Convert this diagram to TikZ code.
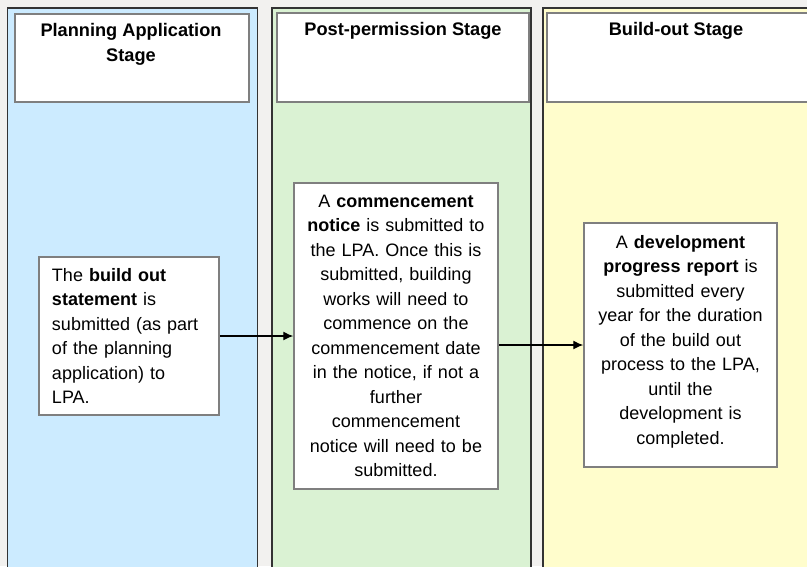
\documentclass[tikz,border=0pt]{standalone}
\usepackage{fontspec}
\setmainfont{Liberation Sans}
\usetikzlibrary{arrows.meta}
\definecolor{bgc}{HTML}{F2F1EF}
\definecolor{colblue}{HTML}{CCEBFF}
\definecolor{colgreen}{HTML}{DAF2D3}
\definecolor{colyellow}{HTML}{FFFDCC}
\definecolor{colborder}{HTML}{333333}
\definecolor{boxborder}{HTML}{7F7F7F}
\begin{document}
\begin{tikzpicture}[x=1pt,y=-1pt,
  lane/.style={draw=colborder, line width=1.8pt, anchor=north west, inner sep=0pt, minimum height=620pt},
  header/.style={draw=boxborder, fill=white, line width=1.5pt, anchor=north west, inner sep=0pt},
  title/.style={font=\fontsize{18.2}{25}\selectfont\bfseries, align=center, anchor=north, inner sep=0pt},
  textbox/.style={draw=boxborder, fill=white, line width=1.5pt, inner sep=0pt, font=\fontsize{18}{24.5}\selectfont},
  flow/.style={line width=1.3pt, -{Latex[length=10pt,width=9pt]}}
]
\useasboundingbox (0,0) rectangle (807,566);
\fill[bgc] (0,0) rectangle (807,566);
\clip (0,0) rectangle (807,566);

% lanes
\node[lane, fill=colblue, minimum width=250pt] (laneA) at (6.5,7) {};
\node[lane, fill=colgreen, minimum width=259pt] (laneB) at (271,7) {};
\node[lane, fill=colyellow, minimum width=300pt] (laneC) at (542,7) {};

% headers
\node[header, minimum width=234pt, minimum height=88pt] (hA) at (14,13) {};
\node[header, minimum width=252pt, minimum height=89pt] (hB) at (276,12) {};
\node[header, minimum width=270pt, minimum height=89pt] (hC) at (546,12) {};

\node[title] (tA) at (131,23) {Planning Application\\Stage};
\node[title] (tB) at (403,22) {Post-permission Stage};
\node[title] (tC) at (676,22) {Build-out Stage};

% text boxes
\node[textbox, minimum width=180pt, minimum height=158pt, text width=154pt, align=left] (b1) at (129,336)
  {The \textbf{build out}\\\textbf{statement} is\\submitted (as part\\of the planning\\application) to\\LPA.};
\node[textbox, minimum width=204pt, minimum height=306pt, text width=204pt, align=center] (b2) at (396,336)
  {A \textbf{commencement}\\\textbf{notice} is submitted to\\the LPA. Once this is\\submitted, building\\works will need to\\commence on the\\commencement date\\in the notice, if not a\\further\\commencement\\notice will need to be\\submitted.};
\node[textbox, minimum width=193pt, minimum height=244pt, text width=193pt, align=center] (b3) at (680.5,345)
  {A \textbf{development}\\\textbf{progress report} is\\submitted every\\year for the duration\\of the build out\\process to the LPA,\\until the\\development is\\completed.\\[-14pt]\mbox{}};

% connectors
\draw[flow] (b1.east) -- (b1.east -| b2.west);
\draw[flow] (b2.east |- b3.west) -- (b3.west);
\end{tikzpicture}
\end{document}
